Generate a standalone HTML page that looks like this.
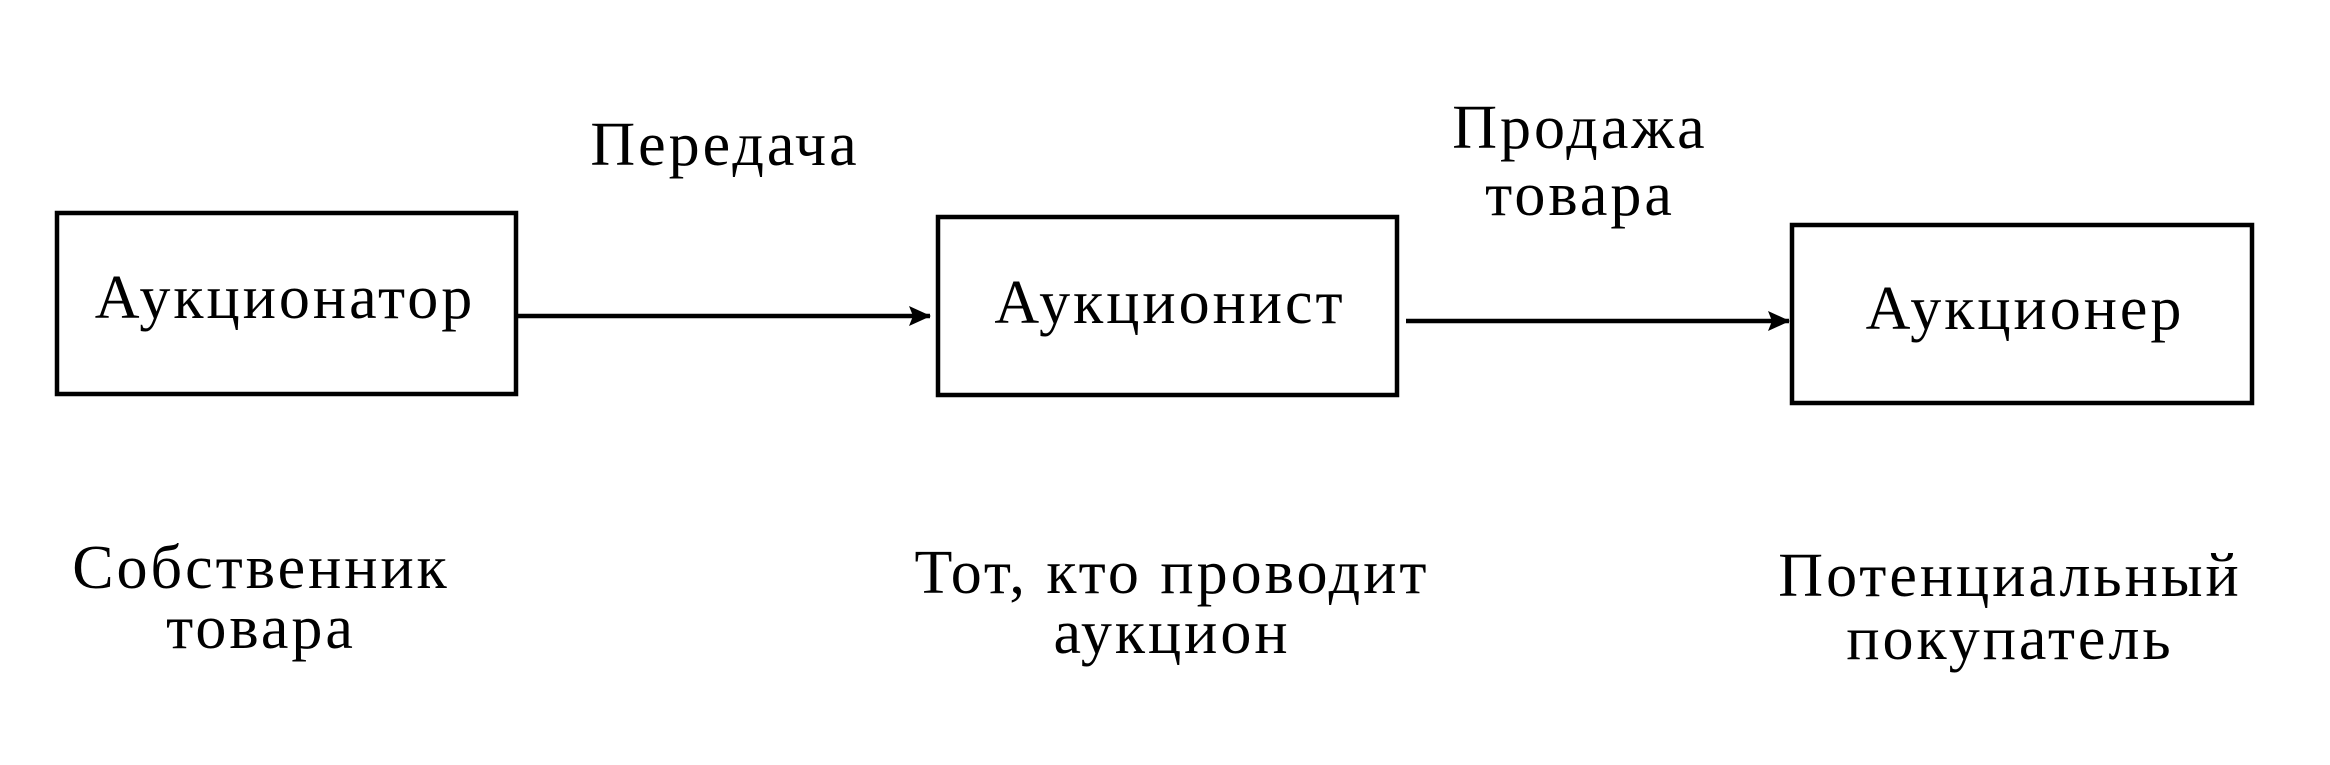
<!DOCTYPE html>
<html><head><meta charset="utf-8"><style>
html,body{margin:0;padding:0;background:#fff;}
svg text{font-family:"Liberation Serif","DejaVu Serif",serif;font-size:62px;letter-spacing:3px;fill:#000;text-anchor:middle;dominant-baseline:central;}
</style></head><body>
<svg width="2330" height="760" viewBox="0 0 2330 760" xmlns="http://www.w3.org/2000/svg">
<defs><marker id="a" markerWidth="22" markerHeight="20" refX="21" refY="10" orient="auto" markerUnits="userSpaceOnUse"><path d="M0,0 L22,10 L0,20 L4,10 Z" fill="#000"/></marker></defs>
<g fill="none" stroke="#000" stroke-width="4.5">
<rect x="57" y="213" width="459" height="181"/>
<rect x="938" y="217" width="459" height="178"/>
<rect x="1792" y="225" width="460" height="178"/>
<line x1="518" y1="316" x2="930" y2="316" marker-end="url(#a)"/>
<line x1="1406" y1="321" x2="1789" y2="321" marker-end="url(#a)"/>
</g>
<text x="285" y="298">Аукционатор</text>
<text x="1170" y="303">Аукционист</text>
<text x="2025" y="309">Аукционер</text>
<text x="725" y="145">Передача</text>
<text x="1580" y="128">Продажа</text>
<text x="1580" y="195">товара</text>
<text x="261" y="568">Собственник</text>
<text x="261" y="628">товара</text>
<text x="1172" y="573">Тот, кто проводит</text>
<text x="1172" y="633">аукцион</text>
<text x="2010" y="576">Потенциальный</text>
<text x="2010" y="639">покупатель</text>
</svg>
</body></html>
